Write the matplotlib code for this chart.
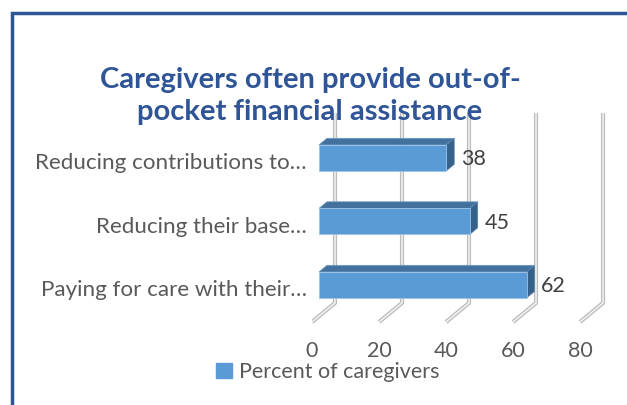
import matplotlib
matplotlib.use("Agg")
import matplotlib.pyplot as plt
from matplotlib.patches import Rectangle, Polygon, Patch

# data
categories = ["Paying for care with their…", "Reducing their base…", "Reducing contributions to…"]
values = [62, 45, 38]
ticks = [0, 20, 40, 60, 80]
series_name = "Percent of caregivers"
title = "Caregivers often provide out-of-\npocket financial assistance"

plt.rcParams['font.family'] = ['Lato', 'DejaVu Sans']

fig = plt.figure(figsize=(6.27, 4.05), dpi=100)
W, H = 627, 405

# axes box in pixels (left, top, right, bottom)
L, T, R, B = 312, 100, 613.5, 330
ax = fig.add_axes([L / W, 1 - B / H, (R - L) / W, (B - T) / H])
ax.set_xlim(0, 90)
ax.set_ylim(-0.709, 2.913)
ax.axis('off')

# pseudo 3d geometry (data units)
DX, DY = 6.87, 0.30        # full depth vector
FLOOR, TOP = -0.583, 2.709
D0, DD = 0.30, 0.35        # bar front depth, bar depth
HALF = 0.205

# gridlines: floor diagonal + back wall vertical
for v in ticks:
    xs = [v, v + DX, v + DX]
    ys = [FLOOR, FLOOR + DY, TOP]
    ax.plot(xs, ys, color='#BDBDBD', lw=3, solid_capstyle='butt', zorder=1)
    ax.plot(xs, ys, color='#F2F2F2', lw=1.1, solid_capstyle='butt', zorder=1.1)
    ax.text(v, -1.04, str(v), ha='center', va='center', fontsize=15.5,
            color='#595959')

front_c, top_c, side_c = '#5B9BD5', '#41719C', '#36618B'
for i, (cat, v) in enumerate(zip(categories, values)):
    x0 = D0 * DX
    y0, y1 = i - HALF, i + HALF
    ox, oy = DD * DX, DD * DY
    ax.add_patch(Polygon([(x0, y1), (x0 + v, y1), (x0 + v + ox, y1 + oy),
                          (x0 + ox, y1 + oy)], closed=True, fc=top_c,
                         ec='#6E9CC6', lw=0.5, zorder=3))
    ax.add_patch(Polygon([(x0 + v, y0), (x0 + v, y1), (x0 + v + ox, y1 + oy),
                          (x0 + v + ox, y0 + oy)], closed=True, fc=side_c,
                         ec='#5F88B0', lw=0.5, zorder=3))
    ax.add_patch(Rectangle((x0, y0), v, 2 * HALF, fc=front_c, ec='#9DC3E6',
                           lw=0.6, zorder=4))
    ax.text(x0 + v + ox + 2.0, i - 0.02, str(v), ha='left', va='center',
            fontsize=15.5, color='#404040', zorder=5)
    ax.text(-1.5, i - 0.08, cat, ha='right', va='center', fontsize=16.1,
            color='#595959', clip_on=False)

fig.text(310 / W, 1 - 96 / H, title, ha='center', va='center',
         fontsize=21, fontweight='bold', color='#2F5597', linespacing=1.33)

fig.legend(handles=[Patch(color=front_c)], labels=[series_name],
           loc='center left', bbox_to_anchor=(216 / W, 1 - 372 / H),
           frameon=False, fontsize=15.5, labelcolor='#595959',
           handlelength=0.75, handleheight=0.75, handletextpad=0.3,
           borderpad=0, borderaxespad=0)

# chart border (only left/top visible)
fig.patches.append(Rectangle((11.5 / W, -0.1), 1.2, 1 - 13 / H + 0.1,
                             transform=fig.transFigure, fill=False,
                             ec='#2F5597', lw=2.5, figure=fig))

fig.savefig('out.png', dpi=100)
